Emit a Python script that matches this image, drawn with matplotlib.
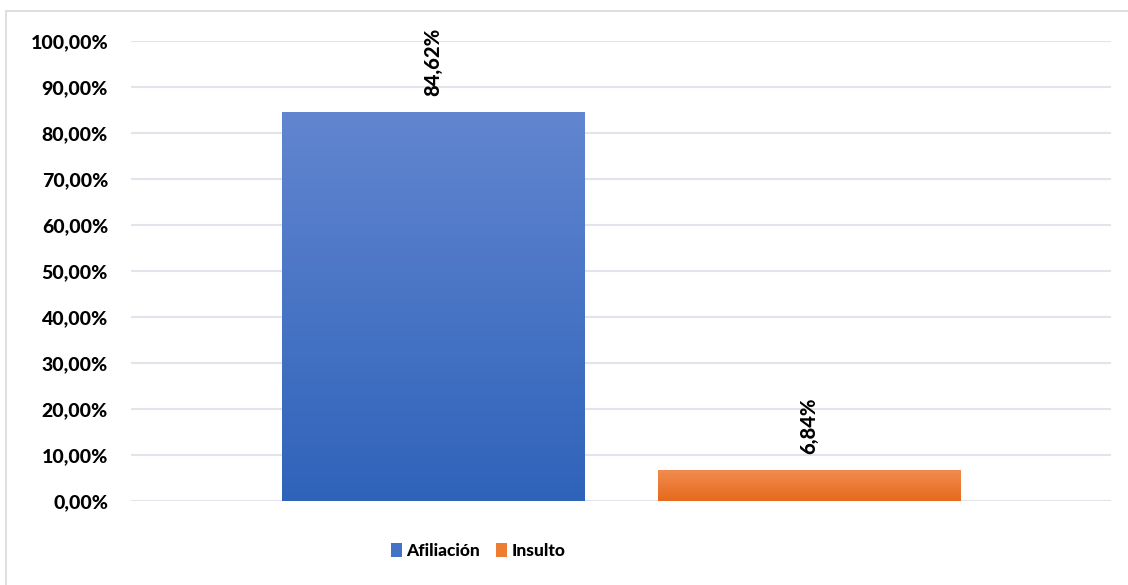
import numpy as np
import matplotlib.pyplot as plt
from matplotlib.colors import LinearSegmentedColormap
from matplotlib.patches import Rectangle, Patch
from matplotlib.ticker import FuncFormatter

series = ['Afiliación', 'Insulto']
values = [84.62, 6.84]
top_colors = ['#6286D0', '#F18D52']
bottom_colors = ['#2F63BA', '#E7691B']
yticks = [0, 10, 20, 30, 40, 50, 60, 70, 80, 90, 100]

plt.rcParams['font.family'] = ['Lato', 'DejaVu Sans']
WEIGHT = 'black'

fig = plt.figure(figsize=(11.28, 5.85), dpi=100)
ax = fig.add_axes([131 / 1128, 1 - 501 / 585, 980 / 1128, 460 / 585])

# chart frame: only top and left edges fall inside the image
fig.patches.append(Rectangle((6 / 1128, -0.1), 1.2, 1.1 - 11 / 585,
                             transform=fig.transFigure, fill=False,
                             edgecolor='#D9D9D9', lw=1.2))

width = 0.309
gap = 0.0745
offsets = [-(width + gap) / 2, (width + gap) / 2]

bars = ax.bar(offsets, values, width=width, color='none', zorder=3)
grad = np.linspace(0, 1, 256).reshape(-1, 1)
for bar, val, ctop, cbot in zip(bars, values, top_colors, bottom_colors):
    cmap = LinearSegmentedColormap.from_list('g', [cbot, ctop])
    x0 = bar.get_x()
    im = ax.imshow(grad, cmap=cmap, origin='lower', aspect='auto',
                   extent=[x0, x0 + bar.get_width(), 0, val], zorder=3)
    im.set_clip_path(bar)
    ax.annotate(f'{val:.2f}%'.replace('.', ','),
                (x0 + bar.get_width() / 2, val), xytext=(0, 11),
                textcoords='offset points', rotation=90, ha='center',
                va='bottom', fontsize=14.5, fontweight=WEIGHT)

ax.set_xlim(-0.5, 0.5)
ax.set_ylim(0, 100)
ax.set_yticks(yticks)
ax.yaxis.set_major_formatter(FuncFormatter(lambda v, p: f'{v:.2f}%'.replace('.', ',')))
ax.set_xticks([])
ax.grid(axis='y', color='#E1E4EA', lw=1.5, zorder=0)
ax.set_axisbelow(True)
for s in ax.spines.values():
    s.set_visible(False)
ax.tick_params(axis='y', length=0, pad=16.5, labelsize=14)
for lbl in ax.get_yticklabels():
    lbl.set_fontweight(WEIGHT)

handles = [Patch(facecolor=c, label=s) for c, s in zip(['#4472C4', '#ED7D31'], series)]
fig.legend(handles=handles, loc='center', bbox_to_anchor=(478 / 1128, 1 - 551 / 585),
           ncol=2, frameon=False, handlelength=0.65, handleheight=0.9,
           handletextpad=0.25, columnspacing=0.9,
           prop={'weight': WEIGHT, 'size': 12.5})

fig.savefig('out.png', dpi=100)
